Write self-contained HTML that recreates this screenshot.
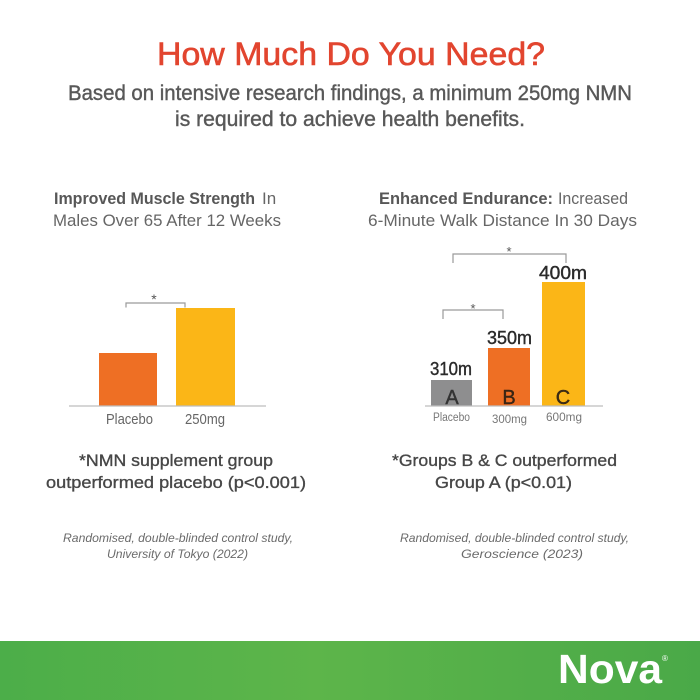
<!DOCTYPE html>
<html>
<head>
<meta charset="utf-8">
<style>
html,body{margin:0;padding:0;background:#fff;}
svg{display:block;}
text{font-family:"Liberation Sans",sans-serif;}
</style>
</head>
<body>
<svg width="700" height="700" viewBox="0 0 700 700" xmlns="http://www.w3.org/2000/svg">
<defs>
<linearGradient id="g" x1="0" y1="0" x2="1" y2="0">
<stop offset="0" stop-color="#4cae49"/>
<stop offset="0.45" stop-color="#5db54a"/>
<stop offset="1" stop-color="#4aa948"/>
</linearGradient>
</defs>
<rect width="700" height="700" fill="#fff"/>

<!-- Title -->
<text x="157" y="65" font-size="32" fill="#e2452f" stroke="#e2452f" stroke-width="0.6" textLength="388" lengthAdjust="spacingAndGlyphs">How Much Do You Need?</text>
<text x="68" y="100" font-size="21" fill="#585858" stroke="#585858" stroke-width="0.4" textLength="564" lengthAdjust="spacingAndGlyphs">Based on intensive research findings, a minimum 250mg NMN</text>
<text x="175" y="126" font-size="21" fill="#585858" stroke="#585858" stroke-width="0.4" textLength="350" lengthAdjust="spacingAndGlyphs">is required to achieve health benefits.</text>

<!-- Left heading -->
<text x="54" y="204" font-size="17" font-weight="bold" fill="#575757" textLength="201" lengthAdjust="spacingAndGlyphs">Improved Muscle Strength</text>
<text x="262" y="204" font-size="17" fill="#666">In</text>
<text x="53" y="226" font-size="17" fill="#666" textLength="228" lengthAdjust="spacingAndGlyphs">Males Over 65 After 12 Weeks</text>

<!-- Right heading -->
<text x="379" y="204" font-size="17" font-weight="bold" fill="#575757" textLength="174" lengthAdjust="spacingAndGlyphs">Enhanced Endurance:</text>
<text x="558" y="204" font-size="17" fill="#666" textLength="70" lengthAdjust="spacingAndGlyphs">Increased</text>
<text x="368" y="226" font-size="17" fill="#666" textLength="269" lengthAdjust="spacingAndGlyphs">6-Minute Walk Distance In 30 Days</text>

<!-- Left chart -->
<rect x="99" y="353" width="58" height="53" fill="#ee6f24"/>
<rect x="176" y="308" width="59" height="98" fill="#fbb617"/>
<line x1="69" y1="406" x2="266" y2="406" stroke="#bdbdbd" stroke-width="1.3"/>
<polyline points="126,307.5 126,303 185,303 185,307.5" fill="none" stroke="#9a9a9a" stroke-width="1.2"/>
<text x="154" y="304" font-size="14" fill="#555" text-anchor="middle">*</text>
<text x="106" y="424" font-size="14.5" fill="#666" textLength="47" lengthAdjust="spacingAndGlyphs">Placebo</text>
<text x="185" y="424" font-size="14.5" fill="#666" textLength="40" lengthAdjust="spacingAndGlyphs">250mg</text>

<!-- Right chart -->
<rect x="431" y="380" width="41" height="26" fill="#8e8e8f"/>
<rect x="488" y="348" width="42" height="58" fill="#ee6f24"/>
<rect x="542" y="282" width="43" height="124" fill="#fbb617"/>
<line x1="425" y1="406" x2="603" y2="406" stroke="#bdbdbd" stroke-width="1.3"/>
<polyline points="443,319 443,310 503,310 503,319" fill="none" stroke="#9a9a9a" stroke-width="1.2"/>
<text x="473" y="313" font-size="13" fill="#555" text-anchor="middle">*</text>
<polyline points="453,263 453,254 566,254 566,263" fill="none" stroke="#9a9a9a" stroke-width="1.2"/>
<text x="509" y="256" font-size="13" fill="#555" text-anchor="middle">*</text>

<text x="430" y="375" font-size="18" fill="#2a2a2a" stroke="#2a2a2a" stroke-width="0.4" textLength="42" lengthAdjust="spacingAndGlyphs">310m</text>
<text x="487" y="344" font-size="18" fill="#2a2a2a" stroke="#2a2a2a" stroke-width="0.4" textLength="45" lengthAdjust="spacingAndGlyphs">350m</text>
<text x="539" y="279" font-size="18" fill="#2a2a2a" stroke="#2a2a2a" stroke-width="0.4" textLength="48" lengthAdjust="spacingAndGlyphs">400m</text>

<text x="452" y="404" font-size="20" fill="#333" stroke="#333" stroke-width="0.4" text-anchor="middle">A</text>
<text x="509" y="404" font-size="20" fill="#3a2514" stroke="#3a2514" stroke-width="0.4" text-anchor="middle">B</text>
<text x="563" y="404" font-size="20" fill="#3a2a14" stroke="#3a2a14" stroke-width="0.4" text-anchor="middle">C</text>

<text x="433" y="421" font-size="11.5" fill="#777" textLength="37" lengthAdjust="spacingAndGlyphs">Placebo</text>
<text x="492" y="423" font-size="11.5" fill="#777" textLength="35" lengthAdjust="spacingAndGlyphs">300mg</text>
<text x="546" y="421" font-size="11.5" fill="#777" textLength="36" lengthAdjust="spacingAndGlyphs">600mg</text>

<!-- Notes -->
<text x="79" y="466" font-size="17" fill="#474747" stroke="#474747" stroke-width="0.35" textLength="194" lengthAdjust="spacingAndGlyphs">*NMN supplement group</text>
<text x="46" y="488" font-size="17" fill="#474747" stroke="#474747" stroke-width="0.35" textLength="260" lengthAdjust="spacingAndGlyphs">outperformed placebo (p&lt;0.001)</text>
<text x="392" y="466" font-size="17" fill="#474747" stroke="#474747" stroke-width="0.35" textLength="225" lengthAdjust="spacingAndGlyphs">*Groups B &amp; C outperformed</text>
<text x="435" y="488" font-size="17" fill="#474747" stroke="#474747" stroke-width="0.35" textLength="137" lengthAdjust="spacingAndGlyphs">Group A (p&lt;0.01)</text>

<!-- Citations -->
<text x="63" y="542" font-size="12" font-style="italic" fill="#6a6a6a" textLength="230" lengthAdjust="spacingAndGlyphs">Randomised, double-blinded control study,</text>
<text x="107" y="558" font-size="12" font-style="italic" fill="#6a6a6a" textLength="141" lengthAdjust="spacingAndGlyphs">University of Tokyo (2022)</text>
<text x="400" y="542" font-size="12" font-style="italic" fill="#6a6a6a" textLength="229" lengthAdjust="spacingAndGlyphs">Randomised, double-blinded control study,</text>
<text x="461" y="558" font-size="12" font-style="italic" fill="#6a6a6a" textLength="122" lengthAdjust="spacingAndGlyphs">Geroscience  (2023)</text>

<!-- Green band -->
<rect x="0" y="641" width="700" height="59" fill="url(#g)"/>
<text x="558" y="683" font-size="41" font-weight="bold" fill="#fff" textLength="104" lengthAdjust="spacingAndGlyphs">Nova</text>
<text x="665" y="661" font-size="8" fill="#fff" text-anchor="middle">®</text>
</svg>
</body>
</html>
